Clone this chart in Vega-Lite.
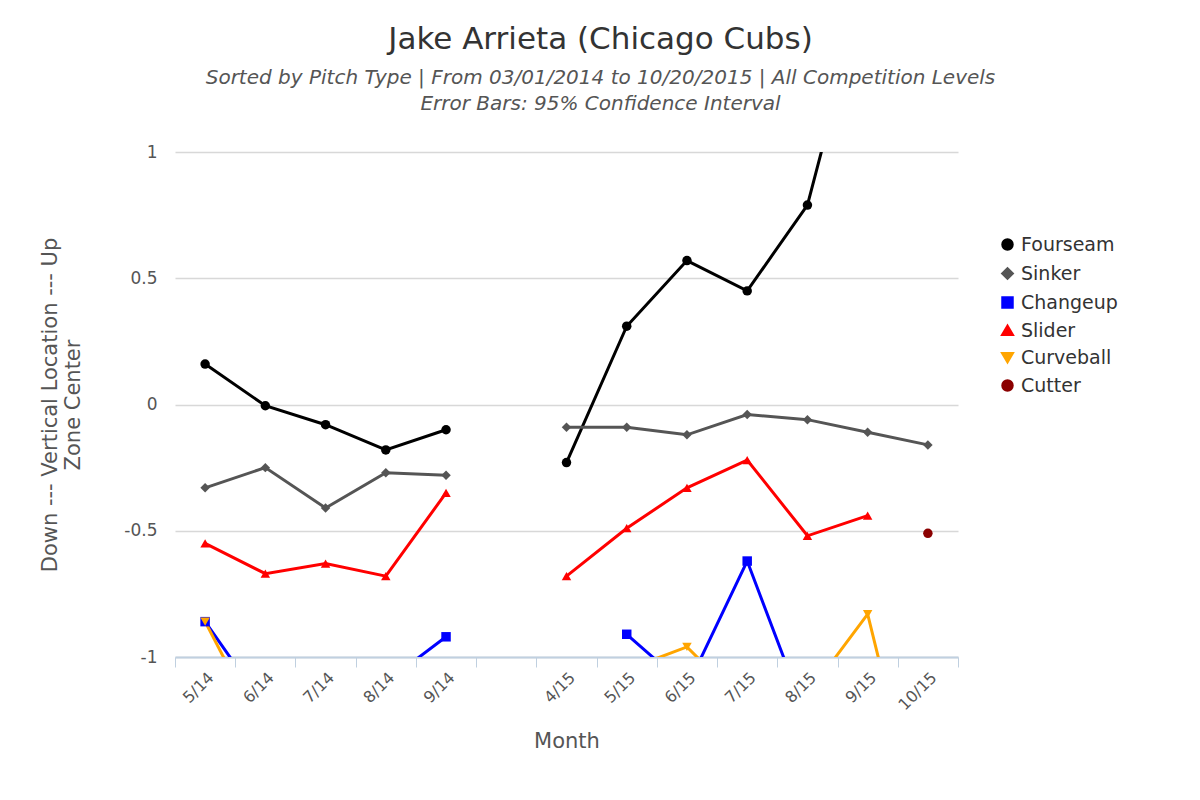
{
  "$schema": "https://vega.github.io/schema/vega-lite/v6.json",
  "autosize": "none",
  "width": 783,
  "height": 505,
  "padding": {"left": 175, "top": 152, "right": 242, "bottom": 143},
  "background": "white",
  "config": {"font": "DejaVu Sans", "view": {"stroke": null}},
  "title": {
    "text": "Jake Arrieta (Chicago Cubs)",
    "subtitle": ["Sorted by Pitch Type | From 03/01/2014 to 10/20/2015 | All Competition Levels", "Error Bars: 95% Confidence Interval"],
    "fontSize": 31, "fontWeight": "normal", "color": "#333",
    "subtitleFontSize": 20, "subtitleColor": "#555", "subtitleFontStyle": "italic", "subtitlePadding": 12, "subtitleLineHeight": 26,
    "anchor": "middle", "dx": 34, "offset": 28
  },
  "data": {"values": [
    {"m": "5/14", "s": "2014", "p": "Fourseam", "v": 0.16},
    {"m": "6/14", "s": "2014", "p": "Fourseam", "v": -0.005},
    {"m": "7/14", "s": "2014", "p": "Fourseam", "v": -0.08},
    {"m": "8/14", "s": "2014", "p": "Fourseam", "v": -0.18},
    {"m": "9/14", "s": "2014", "p": "Fourseam", "v": -0.1},
    {"m": "4/15", "s": "2015", "p": "Fourseam", "v": -0.23},
    {"m": "5/15", "s": "2015", "p": "Fourseam", "v": 0.31},
    {"m": "6/15", "s": "2015", "p": "Fourseam", "v": 0.57},
    {"m": "7/15", "s": "2015", "p": "Fourseam", "v": 0.45},
    {"m": "8/15", "s": "2015", "p": "Fourseam", "v": 0.79},
    {"m": "9/15", "s": "2015", "p": "Fourseam", "v": 1.7},
    {"m": "5/14", "s": "2014", "p": "Sinker", "v": -0.33},
    {"m": "6/14", "s": "2014", "p": "Sinker", "v": -0.25},
    {"m": "7/14", "s": "2014", "p": "Sinker", "v": -0.41},
    {"m": "8/14", "s": "2014", "p": "Sinker", "v": -0.27},
    {"m": "9/14", "s": "2014", "p": "Sinker", "v": -0.28},
    {"m": "4/15", "s": "2015", "p": "Sinker", "v": -0.09},
    {"m": "5/15", "s": "2015", "p": "Sinker", "v": -0.09},
    {"m": "6/15", "s": "2015", "p": "Sinker", "v": -0.12},
    {"m": "7/15", "s": "2015", "p": "Sinker", "v": -0.04},
    {"m": "8/15", "s": "2015", "p": "Sinker", "v": -0.06},
    {"m": "9/15", "s": "2015", "p": "Sinker", "v": -0.11},
    {"m": "10/15", "s": "2015", "p": "Sinker", "v": -0.16},
    {"m": "5/14", "s": "2014", "p": "Changeup", "v": -0.86},
    {"m": "6/14", "s": "2014", "p": "Changeup", "v": -1.2},
    {"m": "7/14", "s": "2014", "p": "Changeup", "v": -1.3},
    {"m": "8/14", "s": "2014", "p": "Changeup", "v": -1.1},
    {"m": "9/14", "s": "2014", "p": "Changeup", "v": -0.92},
    {"m": "5/15", "s": "2015", "p": "Changeup", "v": -0.91},
    {"m": "6/15", "s": "2015", "p": "Changeup", "v": -1.12},
    {"m": "7/15", "s": "2015", "p": "Changeup", "v": -0.62},
    {"m": "8/15", "s": "2015", "p": "Changeup", "v": -1.25},
    {"m": "5/14", "s": "2014", "p": "Slider", "v": -0.55},
    {"m": "6/14", "s": "2014", "p": "Slider", "v": -0.67},
    {"m": "7/14", "s": "2014", "p": "Slider", "v": -0.63},
    {"m": "8/14", "s": "2014", "p": "Slider", "v": -0.68},
    {"m": "9/14", "s": "2014", "p": "Slider", "v": -0.35},
    {"m": "4/15", "s": "2015", "p": "Slider", "v": -0.68},
    {"m": "5/15", "s": "2015", "p": "Slider", "v": -0.49},
    {"m": "6/15", "s": "2015", "p": "Slider", "v": -0.33},
    {"m": "7/15", "s": "2015", "p": "Slider", "v": -0.22},
    {"m": "8/15", "s": "2015", "p": "Slider", "v": -0.52},
    {"m": "9/15", "s": "2015", "p": "Slider", "v": -0.44},
    {"m": "5/14", "s": "2014", "p": "Curveball", "v": -0.86},
    {"m": "6/14", "s": "2014", "p": "Curveball", "v": -1.32},
    {"m": "5/15", "s": "2015", "p": "Curveball", "v": -1.05},
    {"m": "6/15", "s": "2015", "p": "Curveball", "v": -0.96},
    {"m": "7/15", "s": "2015", "p": "Curveball", "v": -1.2},
    {"m": "8/15", "s": "2015", "p": "Curveball", "v": -1.15},
    {"m": "9/15", "s": "2015", "p": "Curveball", "v": -0.83},
    {"m": "10/15", "s": "2015", "p": "Curveball", "v": -1.8},
    {"m": "10/15", "s": "2015", "p": "Cutter", "v": -0.51}
  ]},
  "mark": {"type": "line", "strokeWidth": 3, "clip": true, "point": {"size": 90, "filled": true, "opacity": 1}},
  "encoding": {
    "x": {
      "field": "m", "type": "ordinal",
      "scale": {"domain": ["5/14", "6/14", "7/14", "8/14", "9/14", " ", "4/15", "5/15", "6/15", "7/15", "8/15", "9/15", "10/15"], "paddingInner": 0, "paddingOuter": 0},
      "axis": {"title": "Month", "titleFontSize": 21, "titleFontWeight": "normal", "titleColor": "#555", "titlePadding": 18,
        "labelAngle": -45, "labelFontSize": 16, "labelColor": "#555", "tickBand": "extent", "tickSize": 10,
        "tickColor": "#c0d0e0", "domainColor": "#c0d0e0", "domainWidth": 2, "grid": false}
    },
    "y": {
      "field": "v", "type": "quantitative",
      "scale": {"domain": [-1, 1], "nice": false, "zero": false},
      "axis": {"title": ["Down --- Vertical Location --- Up", "Zone Center"], "titleFontSize": 21, "titleFontWeight": "normal", "titleColor": "#555", "titlePadding": 40,
        "values": [-1, -0.5, 0, 0.5, 1], "labelExpr": "replace(format(datum.value, '~g'), '−', '-')", "labelFontSize": 17, "labelColor": "#555", "labelPadding": 18,
        "domain": false, "ticks": false, "gridColor": "#d8d8d8", "gridWidth": 1.5}
    },
    "color": {
      "field": "p", "type": "nominal",
      "scale": {"domain": ["Fourseam", "Sinker", "Changeup", "Slider", "Curveball", "Cutter"], "range": ["#000000", "#555555", "#0000ff", "#ff0000", "#ffa500", "#8b0000"]},
      "legend": {"title": null, "orient": "none", "legendX": 823, "legendY": 83, "labelFontSize": 19, "labelFontWeight": "normal", "labelColor": "#333", "symbolSize": 90, "rowPadding": 6, "symbolStrokeWidth": 3}
    },
    "shape": {
      "field": "p", "type": "nominal",
      "scale": {"domain": ["Fourseam", "Sinker", "Changeup", "Slider", "Curveball", "Cutter"], "range": ["circle", "diamond", "square", "triangle-up", "triangle-down", "circle"]},
      "legend": null
    },
    "detail": {"field": "s"}
  }
}
